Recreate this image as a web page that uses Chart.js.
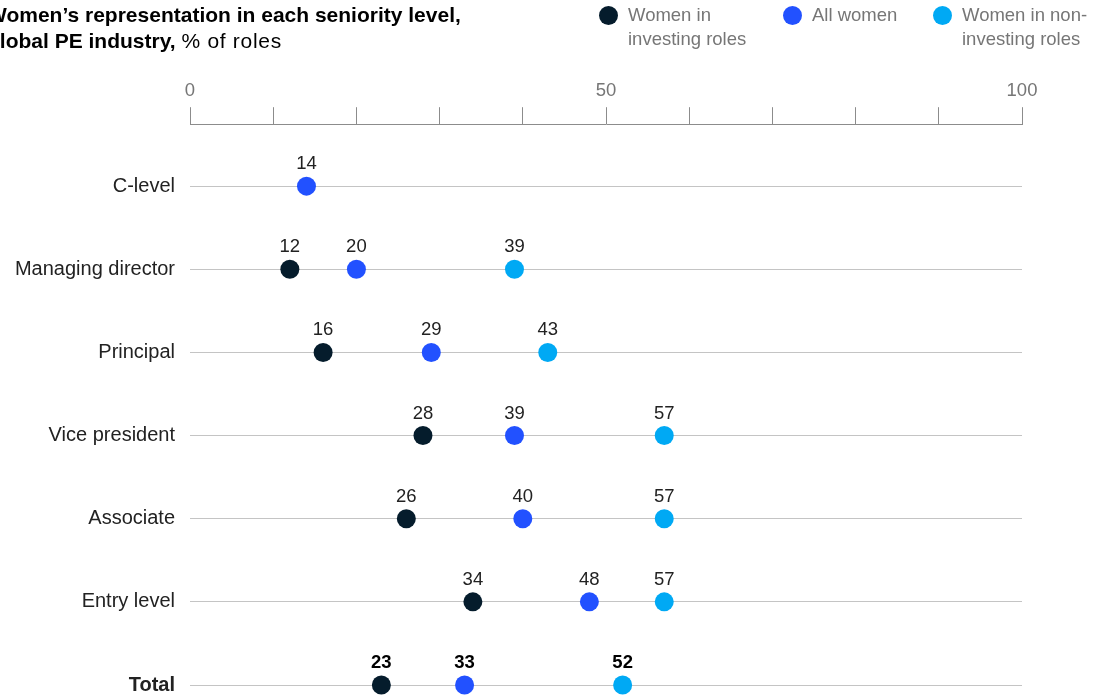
<!DOCTYPE html>
<html>
<head>
<meta charset="utf-8">
<script src="https://cdn.jsdelivr.net/npm/chart.js@4/dist/chart.umd.min.js"></script>
<style>
  html, body { margin: 0; padding: 0; background: #fff; overflow: hidden; }
  body { width: 1103px; height: 698px; position: relative; font-family: "Liberation Sans", Arial, sans-serif; }
  #wrap { position: absolute; left: 0; top: 0; width: 1103px; height: 698px; }
  .title { position: absolute; left: -13px; top: 2px; font-size: 21px; line-height: 26px; color: #000; white-space: nowrap; }
  .title b { font-weight: bold; }
  .title span { letter-spacing: 0.7px; }
  .leg { position: absolute; top: 3px; font-size: 18.5px; line-height: 24px; color: #767676; }
  .leg i { position: absolute; left: -29px; top: 3px; width: 19px; height: 19px; border-radius: 50%; }
</style>
</head>
<body>
<div id="wrap"><canvas id="chart" width="1103" height="698"></canvas></div>
<div class="title"><b>Women’s representation in each seniority level,</b><br><b>global PE industry,</b> <span>% of roles</span></div>
<div class="leg" style="left:628px"><i style="background:#051c2c"></i>Women in<br>investing roles</div>
<div class="leg" style="left:812px"><i style="background:#2251ff"></i>All women</div>
<div class="leg" style="left:962px"><i style="background:#00a9f4"></i>Women in non-<br>investing roles</div>

<script>
// rows top to bottom
var categories = ['C-level', 'Managing director', 'Principal', 'Vice president', 'Associate', 'Entry level', 'Total'];
// null = no dot on that row
var investing    = [null, 12, 16, 28, 26, 34, 23];
var allWomen     = [14, 20, 29, 39, 40, 48, 33];
var nonInvesting = [null, 39, 43, 57, 57, 57, 52];
var xTickLabels  = [0, 50, 100];

var FONT = '"Liberation Sans", Arial, sans-serif';

function toPoints(arr) {
  var pts = [];
  arr.forEach(function (v, i) {
    if (v !== null) pts.push({ x: v, y: i });
  });
  return pts;
}

function series(label, arr, color) {
  return {
    label: label,
    data: toPoints(arr),
    backgroundColor: color,
    borderColor: color,
    borderWidth: 0,
    pointRadius: 9.5,
    pointHoverRadius: 9.5,
    clip: false
  };
}

// value labels above each dot
var valueLabels = {
  id: 'valueLabels',
  afterDatasetsDraw: function (chart) {
    var ctx = chart.ctx;
    ctx.save();
    ctx.textAlign = 'center';
    ctx.textBaseline = 'alphabetic';
    chart.data.datasets.forEach(function (ds, di) {
      var meta = chart.getDatasetMeta(di);
      meta.data.forEach(function (pt, i) {
        var raw = ds.data[i];
        var isTotal = raw.y === categories.length - 1;
        ctx.font = (isTotal ? 'bold ' : '') + '18.5px ' + FONT;
        ctx.fillStyle = isTotal ? '#000' : '#222';
        ctx.fillText(String(raw.x), pt.x, pt.y - 17);
      });
    });
    ctx.restore();
  }
};

new Chart(document.getElementById('chart'), {
  type: 'scatter',
  data: {
    datasets: [
      series('Women in investing roles', investing, '#051c2c'),
      series('All women', allWomen, '#2251ff'),
      series('Women in non-investing roles', nonInvesting, '#00a9f4')
    ]
  },
  options: {
    responsive: false,
    animation: false,
    layout: { padding: { top: 75, right: 81, bottom: 13, left: 0 } },
    plugins: {
      legend: { display: false },
      tooltip: { enabled: false },
      title: { display: false }
    },
    scales: {
      x: {
        type: 'linear',
        position: 'top',
        min: 0,
        max: 100,
        ticks: {
          stepSize: 10,
          padding: 5,
          color: '#767676',
          font: { family: FONT, size: 18.5 },
          callback: function (v) { return xTickLabels.indexOf(v) >= 0 ? String(v) : ''; }
        },
        grid: { drawOnChartArea: false, drawTicks: true, tickLength: 17, color: '#8c8c8c', lineWidth: 1 },
        border: { display: true, color: '#8c8c8c', width: 1 }
      },
      y: {
        type: 'linear',
        reverse: true,
        min: -0.745,
        max: 6,
        afterBuildTicks: function (scale) {
          scale.ticks = categories.map(function (c, i) { return { value: i }; });
        },
        afterFit: function (scale) {
          scale.width = 190;
          scale.paddingTop = 0;
          scale.paddingBottom = 0;
        },
        ticks: {
          padding: 15,
          color: '#222',
          font: function (ctx) {
            return { family: FONT, size: 20, weight: ctx.index === categories.length - 1 ? 'bold' : 'normal' };
          },
          callback: function (v) { return categories[v]; }
        },
        grid: { drawTicks: false, color: '#c4c4c4', lineWidth: 1 },
        border: { display: false }
      }
    }
  },
  plugins: [valueLabels]
});
</script>
</body>
</html>
